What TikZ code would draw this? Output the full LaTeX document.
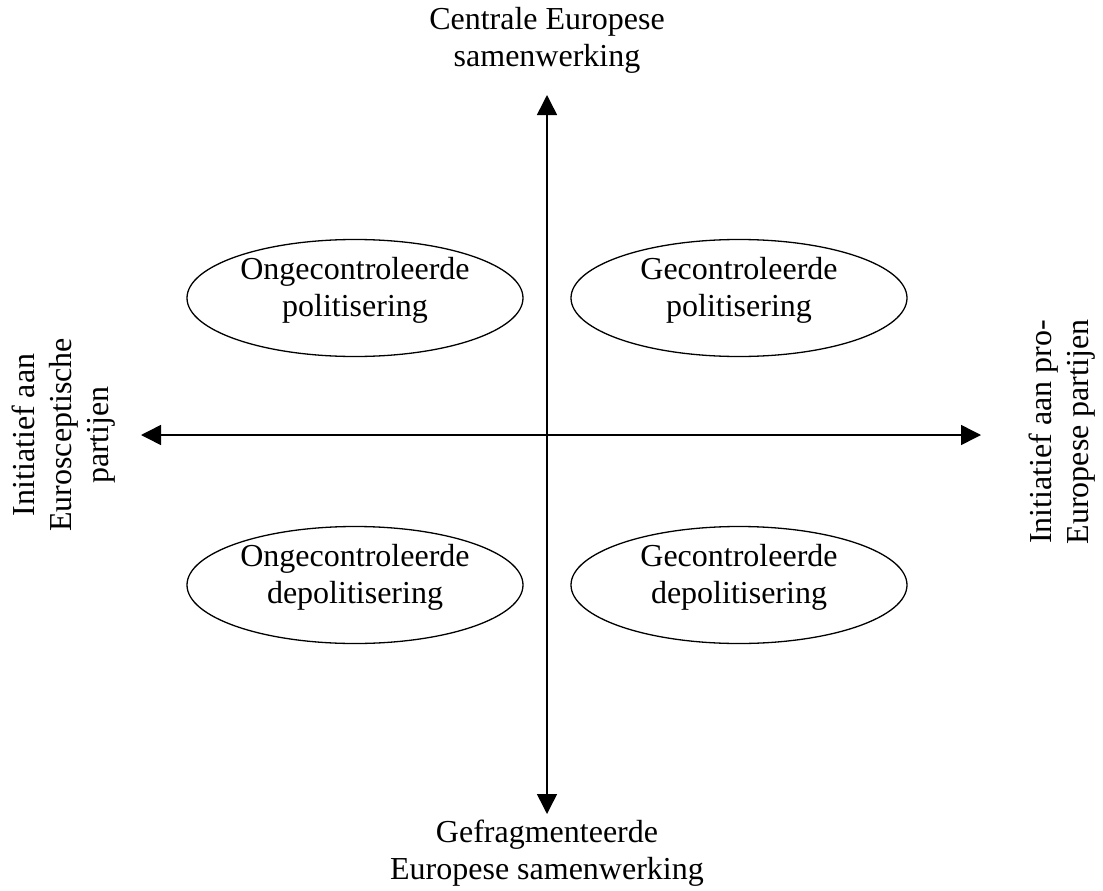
\documentclass[tikz,border=0pt]{standalone}
\usepackage{fontspec}
\setmainfont{Liberation Serif}
\usetikzlibrary{arrows.meta,shapes.geometric}
\begin{document}
\begin{tikzpicture}[x=1pt,y=-1pt,
  axis/.style={line width=1.5pt,{Triangle[length=20pt,width=20pt]}-{Triangle[length=20pt,width=20pt]}},
  quad/.style={draw,line width=1.3pt,ellipse,minimum width=336pt,minimum height=117pt,inner sep=0pt},
  lbl/.style={align=center,font=\fontsize{32}{37}\selectfont,inner sep=0pt}]
\useasboundingbox (0,0) rectangle (1103,891);
\coordinate (T) at (547,95);
\coordinate (B) at (547,814);
\coordinate (L) at (141,435);
\coordinate (R) at (981,435);
\draw[axis] (T) -- (B);
\draw[axis] (L) -- (R);
\node[quad] (ul) at (355,298) {};
\node[quad] (ur) at (739,298) {};
\node[quad] (ll) at (355,585) {};
\node[quad] (lr) at (739,585) {};
\node[lbl] (tul) at ([yshift=8pt]ul.center) {Ongecontroleerde\\politisering};
\node[lbl] (tur) at ([yshift=8pt]ur.center) {Gecontroleerde\\politisering};
\node[lbl] (tll) at ([yshift=8pt]ll.center) {Ongecontroleerde\\depolitisering};
\node[lbl] (tlr) at ([yshift=8pt]lr.center) {Gecontroleerde\\depolitisering};
\node[lbl] (top) at (547,40) {Centrale Europese\\samenwerking};
\node[lbl] (bot) at (547,853) {Gefragmenteerde\\Europese samenwerking};
\node[lbl,rotate=90] (left) at (64,435) {Initiatief aan\\Eurosceptische\\partijen};
\node[lbl,rotate=90] (right) at (1062,432) {Initiatief aan pro-\\Europese partijen};
\end{tikzpicture}
\end{document}
